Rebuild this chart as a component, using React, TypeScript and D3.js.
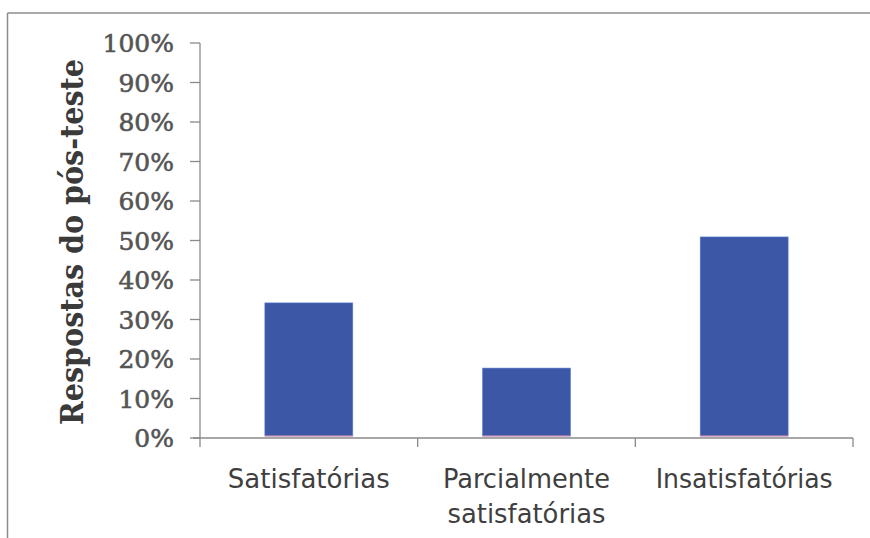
import React from "react";
import * as d3 from "d3";

const categories = ["Satisfatórias", "Parcialmente satisfatórias", "Insatisfatórias"];
const labelLines = [["Satisfatórias"], ["Parcialmente", "satisfatórias"], ["Insatisfatórias"]];
const values = [0.342, 0.177, 0.509];
const yTicks = [0, 0.1, 0.2, 0.3, 0.4, 0.5, 0.6, 0.7, 0.8, 0.9, 1.0];
const yTitle = "Respostas do pós-teste";

const W = 870;
const H = 538;

export default function App() {
  const x = d3
    .scaleBand<string>()
    .domain(categories)
    .range([200, 853])
    .paddingInner(0.596)
    .paddingOuter(0.298);
  const y = d3.scaleLinear().domain([0, 1]).range([438, 43]);
  const fmt = d3.format(".0%");
  const axisColor = "#8a8a8a";
  const lineWidths: Record<string, number> = {
    "Satisfatórias": 162,
    "Parcialmente": 167,
    "satisfatórias": 158,
    "Insatisfatórias": 177,
  };

  return (
    <svg
      width={W}
      height={H}
      style={{ position: "absolute", left: 0, top: 0, background: "#fff" }}
    >
      <rect x={0} y={0} width={W} height={H} fill="#ffffff" />
      {/* frame */}
      <line x1={7.5} y1={13} x2={870} y2={13} stroke="#8c8c8c" strokeWidth={1.5} />
      <line x1={7.5} y1={13} x2={7.5} y2={538} stroke="#8c8c8c" strokeWidth={1.5} />

      {/* bars */}
      {categories.map((c, i) => (
        <g key={c}>
          <rect
            x={x(c)!}
            y={y(values[i])}
            width={x.bandwidth()}
            height={y(0) - y(values[i]) - 2}
            fill="#3b57a6"
            stroke="#5a7fd0"
            strokeWidth={0.6}
          />
          <line
            x1={x(c)!}
            x2={x(c)! + x.bandwidth()}
            y1={y(0) - 2}
            y2={y(0) - 2}
            stroke="#e58aa8"
            strokeWidth={1.2}
          />
        </g>
      ))}

      {/* y axis */}
      <line x1={200} x2={200} y1={y(1)} y2={y(0)} stroke={axisColor} strokeWidth={1.3} />
      {yTicks.map((t) => (
        <g key={t}>
          <line x1={190} x2={200} y1={y(t)} y2={y(t)} stroke={axisColor} strokeWidth={1.3} />
          <text
            x={174}
            y={y(t)}
            dy="0.36em"
            textAnchor="end"
            fontFamily="'DejaVu Serif', serif"
            fontSize={25}
            fill="#555555"
            stroke="#555555"
            strokeWidth={0.6}
          >
            {fmt(t)}
          </text>
        </g>
      ))}

      {/* x axis */}
      <line x1={193} x2={853} y1={y(0)} y2={y(0)} stroke={axisColor} strokeWidth={1.3} />
      {[0, 1, 2, 3].map((k) => {
        const xx = 200 + k * x.step();
        return (
          <line key={k} x1={xx} x2={xx} y1={y(0)} y2={y(0) + 9} stroke={axisColor} strokeWidth={1.3} />
        );
      })}

      {/* category labels */}
      {categories.map((c, i) => {
        const cx = x(c)! + x.bandwidth() / 2;
        return labelLines[i].map((ln, j) => (
          <text
            key={c + j}
            x={cx}
            y={488 + j * 35}
            textAnchor="middle"
            fontFamily="'Liberation Sans Narrow', 'DejaVu Sans Condensed', 'Roboto Condensed', sans-serif"
            fontSize={27}
            fill="#3f3f3f"
            textLength={lineWidths[ln]}
            lengthAdjust="spacingAndGlyphs"
          >
            {ln}
          </text>
        ));
      })}

      {/* y title */}
      <text
        transform={`translate(83, 242) rotate(-90)`}
        textAnchor="middle"
        fontFamily="'DejaVu Serif', serif"
        fontWeight="bold"
        fontSize={31}
        fill="#3a3a3a"
        textLength={366}
        lengthAdjust="spacingAndGlyphs"
      >
        {yTitle}
      </text>
    </svg>
  );
}
